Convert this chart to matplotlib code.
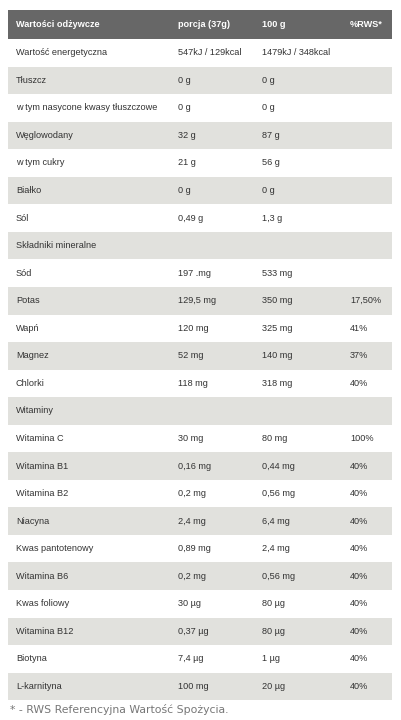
import matplotlib
matplotlib.use("Agg")
import matplotlib.pyplot as plt
from matplotlib.patches import Rectangle

headers = ["Wartości odżywcze", "porcja (37g)", "100 g", "%RWS*"]
names = ["Wartość energetyczna", "Tłuszcz", "w tym nasycone kwasy tłuszczowe", "Węglowodany",
         "w tym cukry", "Białko", "Sól", "Składniki mineralne", "Sód", "Potas", "Wapń",
         "Magnez", "Chlorki", "Witaminy", "Witamina C", "Witamina B1", "Witamina B2",
         "Niacyna", "Kwas pantotenowy", "Witamina B6", "Kwas foliowy", "Witamina B12",
         "Biotyna", "L-karnityna"]
portion = ["547kJ / 129kcal", "0 g", "0 g", "32 g", "21 g", "0 g", "0,49 g", "", "197 .mg",
           "129,5 mg", "120 mg", "52 mg", "118 mg", "", "30 mg", "0,16 mg", "0,2 mg", "2,4 mg",
           "0,89 mg", "0,2 mg", "30 µg", "0,37 µg", "7,4 µg", "100 mg"]
per100 = ["1479kJ / 348kcal", "0 g", "0 g", "87 g", "56 g", "0 g", "1,3 g", "", "533 mg",
          "350 mg", "325 mg", "140 mg", "318 mg", "", "80 mg", "0,44 mg", "0,56 mg", "6,4 mg",
          "2,4 mg", "0,56 mg", "80 µg", "80 µg", "1 µg", "20 µg"]
rws = ["", "", "", "", "", "", "", "", "", "17,50%", "41%", "37%", "40%", "", "100%", "40%",
       "40%", "40%", "40%", "40%", "40%", "40%", "40%", "40%"]
footnote = "* - RWS Referencyjna Wartość Spożycia."

fig = plt.figure(figsize=(4.02, 7.2), dpi=100)
ax = fig.add_axes([0, 0, 1, 1])
ax.set_xlim(0, 402)
ax.set_ylim(720, 0)
ax.axis("off")

left, right = 8, 392
top, head_h, row_h = 10, 29, 27.55
cols = [16, 178, 262, 350]
ax.add_patch(Rectangle((left, top), right - left, head_h, color="#676767", lw=0))
for x, h in zip(cols, headers):
    ax.text(x, top + head_h / 2, h, color="white", fontsize=6.6, fontweight="bold",
            va="center", ha="left", family="Liberation Sans")
y0 = top + head_h
for i in range(len(names)):
    y = y0 + i * row_h
    if i % 2 == 1:
        ax.add_patch(Rectangle((left, y), right - left, row_h, color="#e1e1dd", lw=0))
    for x, t in zip(cols, [names[i], portion[i], per100[i], rws[i]]):
        ax.text(x, y + row_h / 2, t, color="#333333", fontsize=6.6, va="center", ha="left",
                family="Liberation Sans")
ax.text(10, y0 + len(names) * row_h + 9, footnote, color="#777777", fontsize=7.8,
        va="center", ha="left", family="DejaVu Sans")
fig.savefig("out.png", dpi=100)
